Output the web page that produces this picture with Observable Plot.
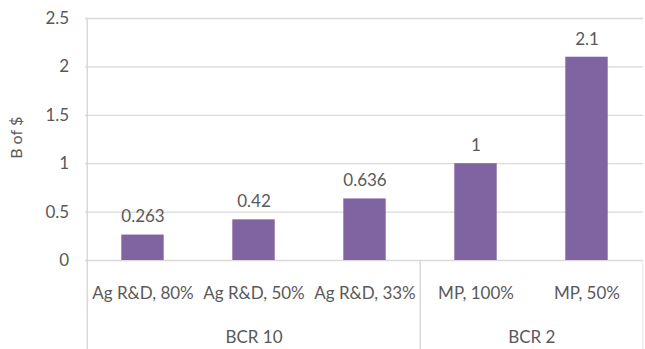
<!DOCTYPE html>
<html>
<head>
<meta charset="utf-8">
<script src="https://cdn.jsdelivr.net/npm/d3@7"></script>
<script src="https://cdn.jsdelivr.net/npm/@observablehq/plot@0.6"></script>
<style>
  html, body { margin: 0; padding: 0; background: #fff; }
  #chart svg { display: block; }
</style>
</head>
<body>
<div id="chart"></div>
<script>
// ---- data ----
const categories = ["Ag R&D, 80%", "Ag R&D, 50%", "Ag R&D, 33%", "MP, 100%", "MP, 50%"];
const values = [0.263, 0.42, 0.636, 1, 2.1];
const valueLabels = ["0.263", "0.42", "0.636", "1", "2.1"];
const groupOf = ["BCR 10", "BCR 10", "BCR 10", "BCR 2", "BCR 2"];
const groupNames = ["BCR 10", "BCR 2"];
const yTicks = [0, 0.5, 1, 1.5, 2, 2.5];
const yTickLabels = ["0", "0.5", "1", "1.5", "2", "2.5"];
const yLabel = "B of $";

// ---- layout ----
const W = 645, H = 349;
const mL = 85, mR = 2, mT = 18;
const zeroY = 260;               // pixel row of the value 0
const yMax = 2.5;
const pxPerUnit = (zeroY - mT) / yMax;
const yBottom = -(H - zeroY) / pxPerUnit;  // domain extends below 0 to reach the bottom edge
const bw = (W - mL - mR) / categories.length;
const barW = 43;
const textColor = "#595959";
const gridColor = "#d9d9d9";

const rows = categories.map((c, i) => ({cat: c, value: values[i], label: valueLabels[i], group: groupOf[i]}));

// group boundaries and centers
const groupInfo = groupNames.map(g => {
  const idx = groupOf.map((x, i) => x === g ? i : -1).filter(i => i >= 0);
  const first = idx[0], last = idx[idx.length - 1];
  const center = (first + last) / 2;
  const anchor = Math.floor(center);
  return {name: g, first, last, anchorCat: categories[anchor], dx: (center - anchor) * bw};
});
// boundary lines (below the axis) at the left of each group and the right of the last
const boundaries = groupInfo.slice(1).map(g => ({cat: categories[g.first], dx: -bw / 2}));
const rightEdge = {cat: categories[categories.length - 1], dx: bw / 2};

const font = "Lato, 'Open Sans', sans-serif";

const chart = Plot.plot({
  width: W,
  height: H,
  marginLeft: mL,
  marginRight: mR,
  marginTop: mT,
  marginBottom: 0,
  style: {fontFamily: font, fontSize: "17px", color: textColor, background: "#fff"},
  x: {type: "band", domain: categories, padding: 0, axis: null},
  y: {domain: [yBottom, yMax], axis: null},
  marks: [
    // horizontal gridlines
    Plot.ruleY(yTicks, {stroke: gridColor, strokeWidth: 1.3}),
    // left axis line (full height)
    Plot.ruleX([categories[0]], {y1: yBottom, y2: yMax, dx: -bw / 2, stroke: gridColor, strokeWidth: 1.5}),
    // group separators below the axis
    ...boundaries.map(b => Plot.ruleX([b.cat], {y1: yBottom, y2: 0, dx: b.dx, stroke: gridColor, strokeWidth: 1.5})),
    Plot.ruleX([rightEdge.cat], {y1: yBottom, y2: 0, dx: rightEdge.dx, stroke: "#ececec", strokeWidth: 1.2}),
    // bars
    Plot.barY(rows, {x: "cat", y: "value", fill: "#8064A2", insetLeft: (bw - barW) / 2, insetRight: (bw - barW) / 2}),
    // value labels
    Plot.text(rows, {x: "cat", y: "value", text: "label", dy: -18, fill: textColor, fontSize: 17}),
    // category labels
    Plot.text(rows, {x: "cat", y: () => 0, text: "cat", dy: 33, fill: textColor, fontSize: 17}),
    // group labels
    ...groupInfo.map(g => Plot.text([g.name], {x: () => g.anchorCat, y: () => 0, text: d => d, dx: g.dx, dy: 77, fill: textColor, fontSize: 17})),
    // y tick labels
    Plot.text(yTicks, {x: () => categories[0], y: d => d, text: (d, i) => yTickLabels[i], dx: -bw / 2 - 18, textAnchor: "end", fill: textColor, fontSize: 17}),
    // y axis title
    Plot.text([yLabel], {frameAnchor: "left", y: () => yMax / 2 - 0.2, text: d => d, rotate: -90, dx: -mL + 16, fill: textColor, fontSize: 16})
  ]
});

document.getElementById("chart").appendChild(chart);
</script>
</body>
</html>
